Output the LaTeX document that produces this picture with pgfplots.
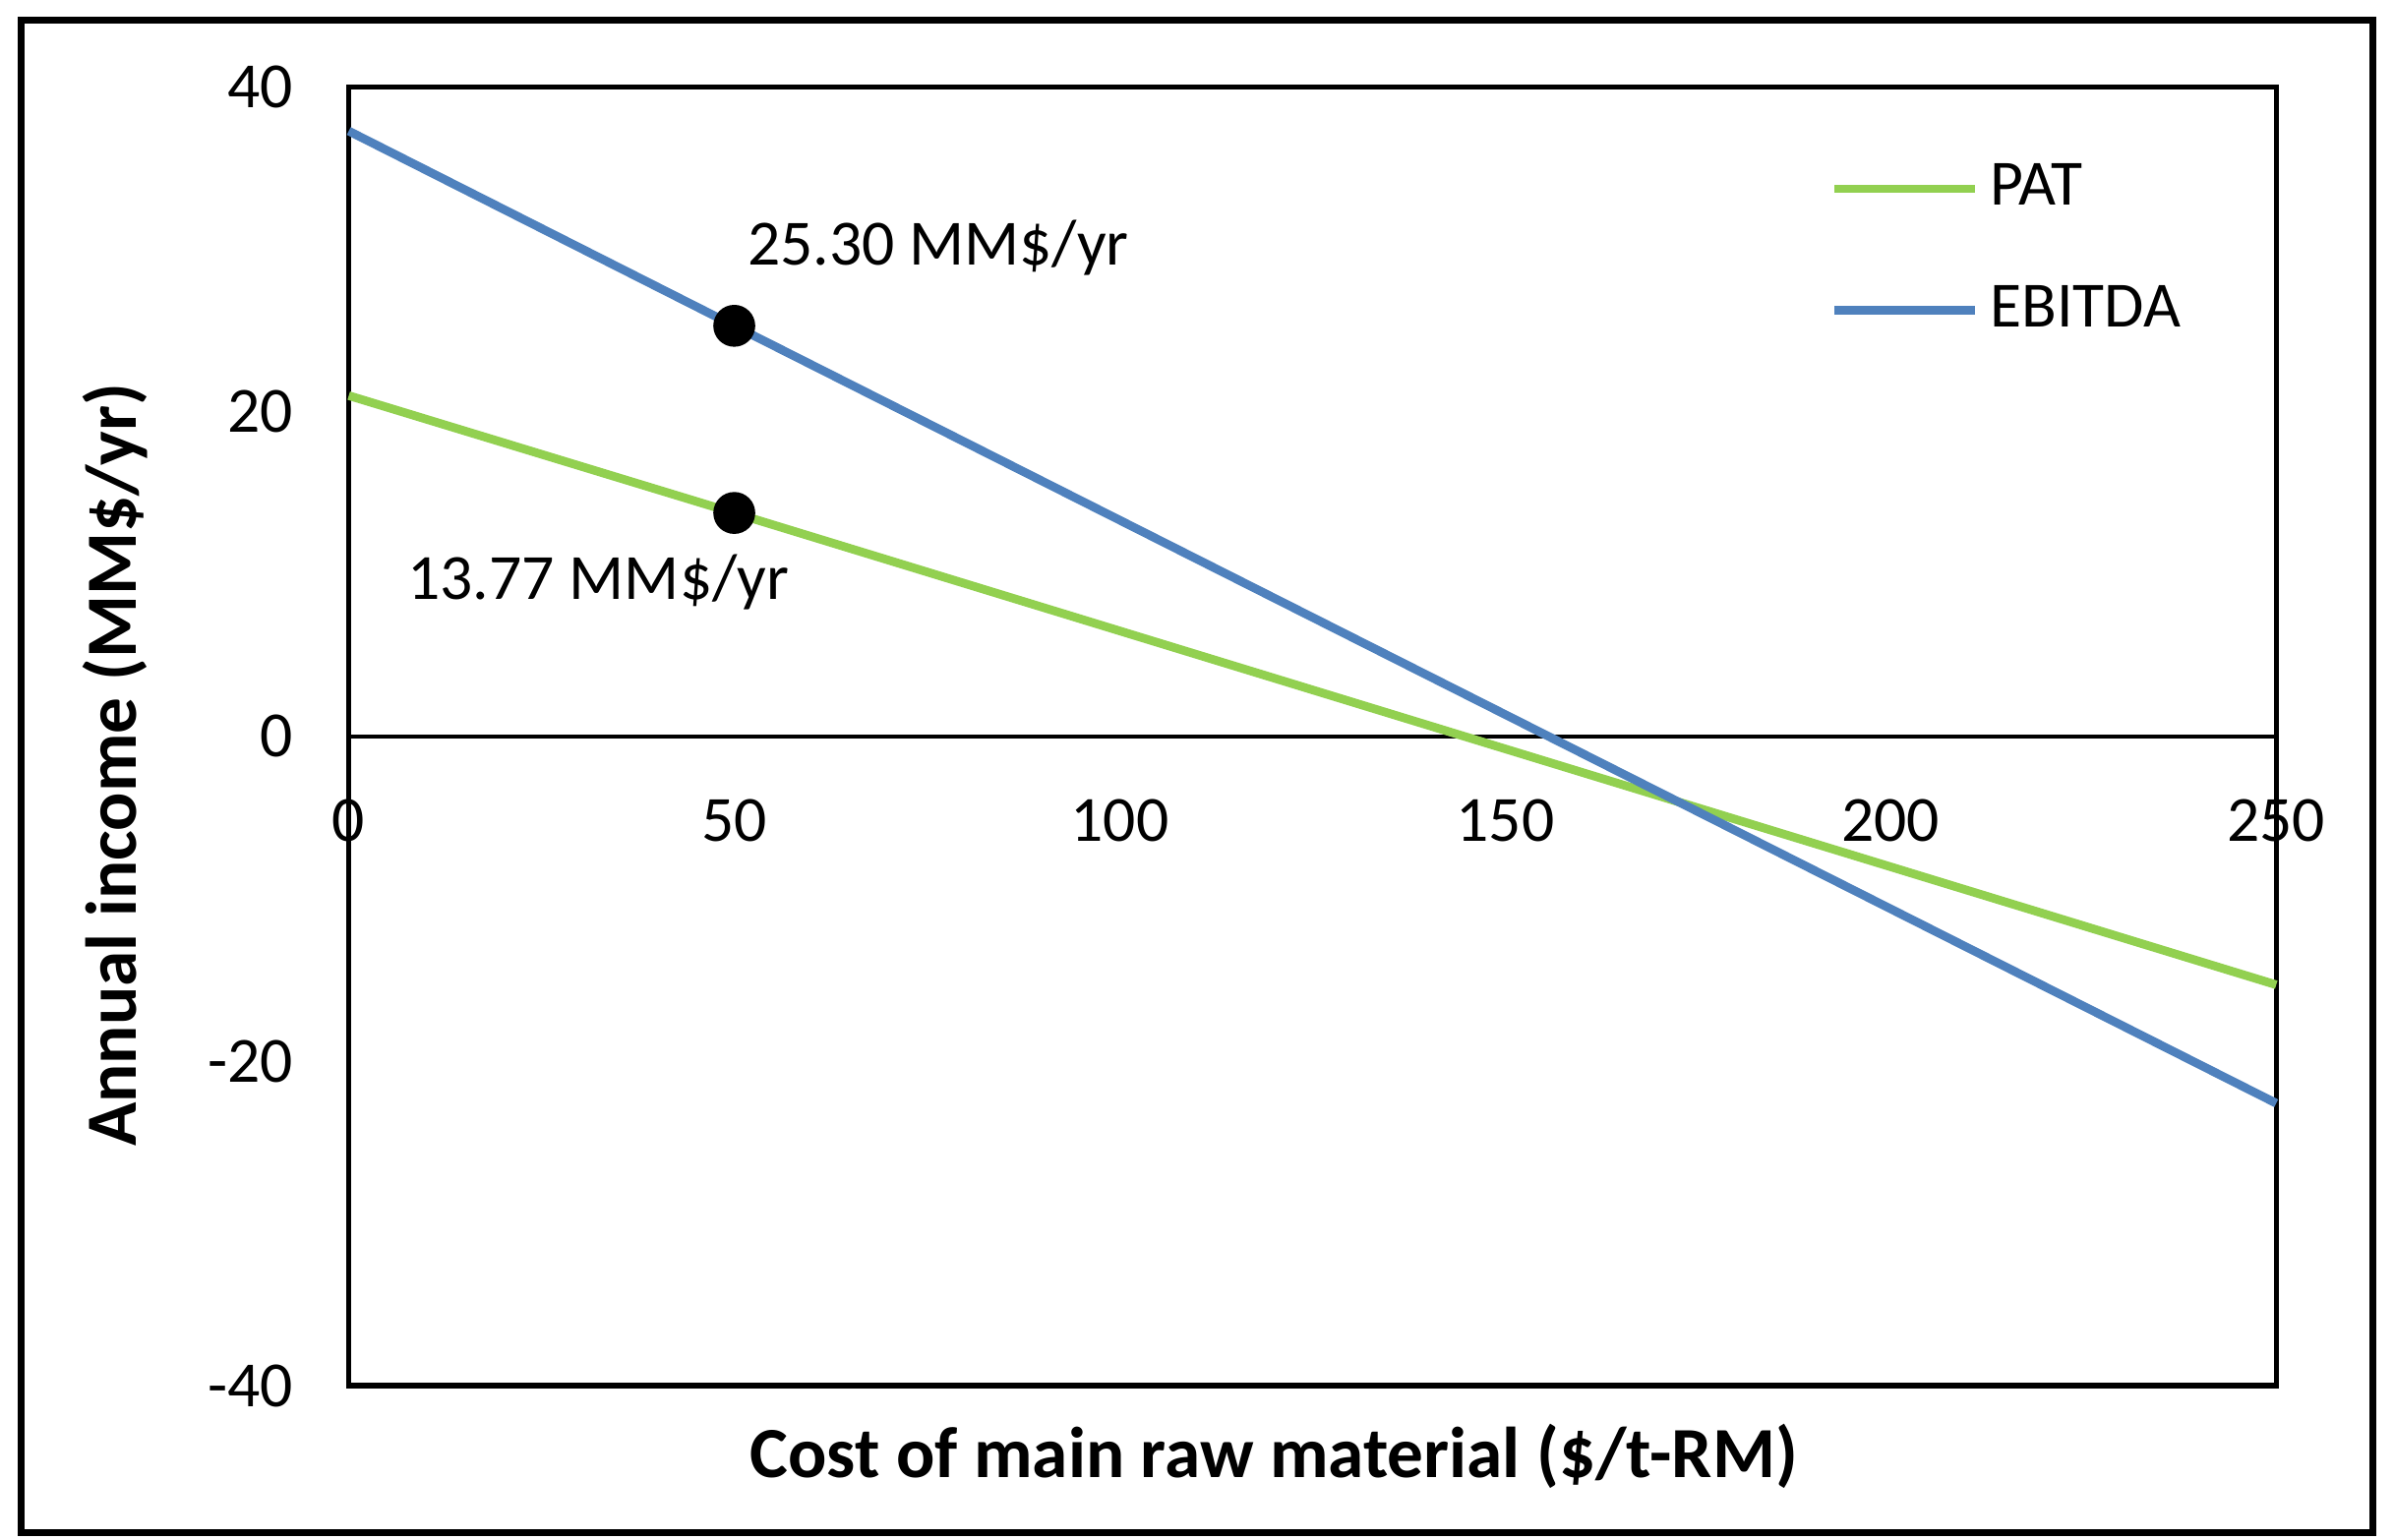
\documentclass[border=0pt]{standalone}
\usepackage{pgfplots}
\pgfplotsset{compat=1.18}
\usepackage{fontspec}
\setmainfont{Carlito}

\definecolor{patgreen}{RGB}{146,208,80}
\definecolor{ebitblue}{RGB}{79,129,189}

\begin{document}
\begin{tikzpicture}
\begin{axis}[
    scale only axis,
    width=12.6cm,
    height=8.49cm,
    xmin=0, xmax=250,
    ymin=-40, ymax=40,
    axis line style={line width=0.35mm},
    xtick={0,50,100,150,200,250},
    ytick={-40,-20,0,20,40},
    major tick length=0pt,
    /pgf/number format/assume math mode=true,
    tick label style={font=\fontsize{12}{14}\selectfont},
    xticklabel style={yshift=3.96cm},
    yticklabel style={xshift=-0.24cm},
    xlabel={\textbf{Cost of main raw material (\$/t-RM)}},
    ylabel={\textbf{Annual income (MM\$/yr)}},
    xlabel style={font=\fontsize{13.4}{16}\selectfont, at={(axis description cs:0.48,-0.054)}, anchor=center},
    ylabel style={font=\fontsize{13.4}{16}\selectfont, at={(axis description cs:-0.1214,0.478)}, anchor=center},
    legend style={draw=none, fill=none, at={(axis cs:192,36.0)}, anchor=north west,
        font=\fontsize{12}{14}\selectfont, row sep=0.33cm, inner sep=0pt},
    legend cell align=left,
    legend image code/.code={\draw[#1] (0cm,0cm) -- (0.92cm,0cm);},
    clip=false,
]
\draw[line width=0.3mm] (axis cs:0,0) -- (axis cs:250,0);

\addplot[patgreen, line width=1.6pt] coordinates {(0,21.0) (50,13.77) (250,-15.3)};
\addlegendentry{PAT}
\addplot[ebitblue, line width=1.6pt] coordinates {(0,37.3) (50,25.30) (250,-22.6)};
\addlegendentry{EBITDA}

\addplot[only marks, mark=*, mark size=1.3mm, black, forget plot] coordinates {(50,25.30) (50,13.77)};

\node[anchor=west, font=\fontsize{12}{14}\selectfont, inner sep=0pt] at (axis cs:51.6,30.1) {25.30 MM\$/yr};
\node[anchor=west, font=\fontsize{12}{14}\selectfont, inner sep=0pt] at (axis cs:7.5,9.5) {13.77 MM\$/yr};
\end{axis}
\draw[line width=0.45mm] (-2.14,-0.96) rectangle (13.23,8.93);
\pgfresetboundingbox
\useasboundingbox (-2.28,-1.003) rectangle (13.37,9.06);
\end{tikzpicture}
\end{document}
